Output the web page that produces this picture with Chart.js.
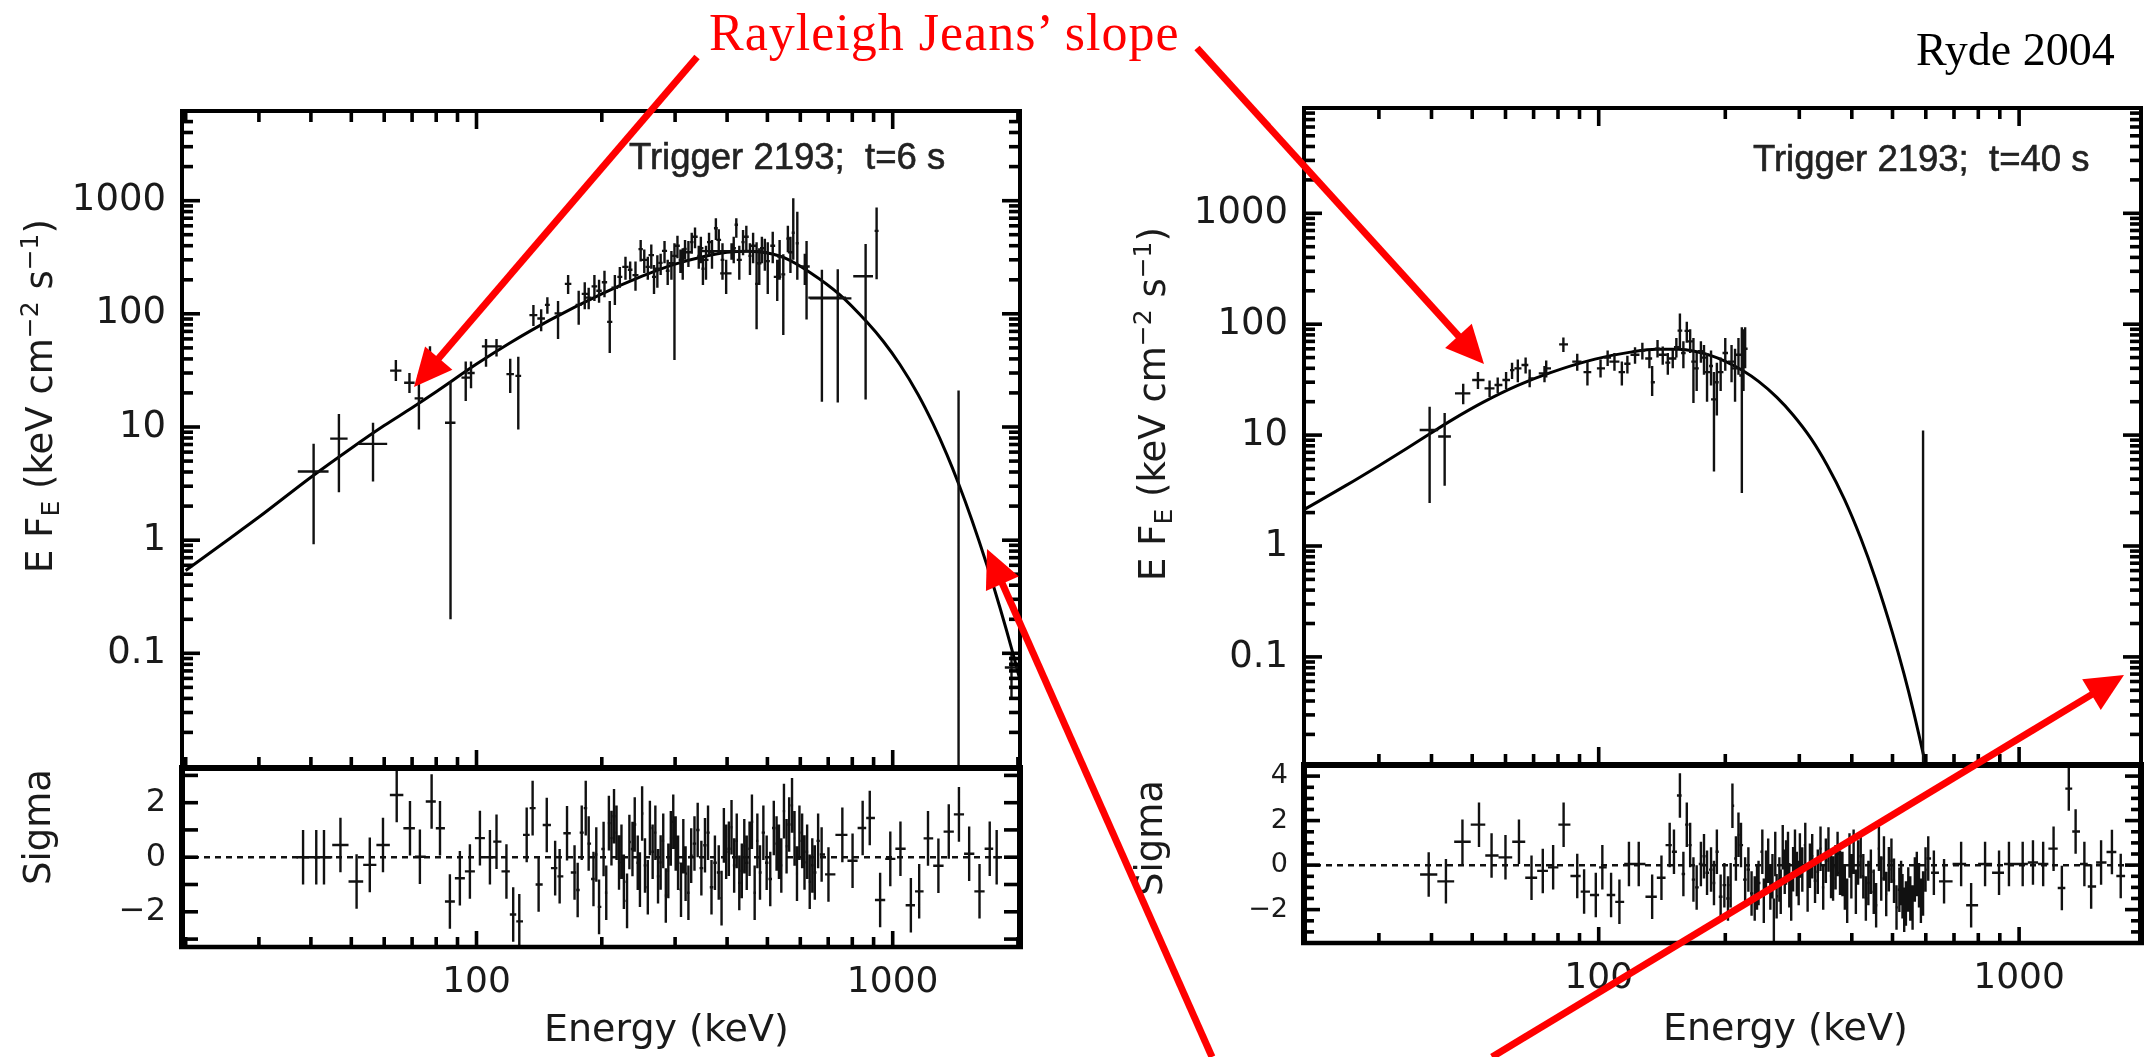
<!DOCTYPE html>
<html>
<head>
<meta charset="utf-8">
<title>Ryde 2004 - Trigger 2193</title>
<script src="https://cdn.jsdelivr.net/npm/chart.js@4.4.1/dist/chart.umd.min.js"></script>
<style>
  html, body { margin: 0; padding: 0; background: #fff; }
  body { position: relative; width: 2148px; height: 1057px; overflow: hidden; }
  canvas { position: absolute; }
  #overlay { position: absolute; left: 0; top: 0; pointer-events: none; }
  #overlay text { font-family: "DejaVu Sans", sans-serif; fill: #1a1a1a; }
  #overlay text.trig { font-family: "Liberation Sans", Arial, sans-serif; fill: #222; stroke: #222; stroke-width: 0.6; white-space: pre; }
</style>
</head>
<body>
<canvas id="leftMain" width="1030" height="768" style="left:0;top:0"></canvas>
<canvas id="leftRes" width="1030" height="317" style="left:0;top:740px"></canvas>
<canvas id="rightMain" width="1026" height="765" style="left:1122px;top:0"></canvas>
<canvas id="rightRes" width="1026" height="320" style="left:1122px;top:737px"></canvas>

<svg id="overlay" width="2148" height="1057" xmlns="http://www.w3.org/2000/svg">
  <g id="ticks" stroke="#000" stroke-width="3.6" fill="none"></g>
  <text x="709" y="50" style="font-family:'Liberation Serif',serif;fill:#f00" font-size="52" letter-spacing="1">Rayleigh Jeans’ slope</text>
  <text x="1916" y="65" style="font-family:'Liberation Serif',serif;fill:#000" font-size="46">Ryde 2004</text>

  <text class="trig" x="629" y="169" font-size="36.5">Trigger 2193;  t=6 s</text>
  <text class="trig" x="1753" y="171" font-size="36.5">Trigger 2193;  t=40 s</text>

  <text transform="translate(52,396) rotate(-90)" text-anchor="middle" font-size="37">E F<tspan font-size="25" dy="7">E</tspan><tspan dy="-7"> (keV cm</tspan><tspan font-size="25" dy="-14">−2</tspan><tspan dy="14"> s</tspan><tspan font-size="25" dy="-14">−1</tspan><tspan dy="14">)</tspan></text>
  <text transform="translate(1165,404) rotate(-90)" text-anchor="middle" font-size="37">E F<tspan font-size="25" dy="7">E</tspan><tspan dy="-7"> (keV cm</tspan><tspan font-size="25" dy="-14">−2</tspan><tspan dy="14"> s</tspan><tspan font-size="25" dy="-14">−1</tspan><tspan dy="14">)</tspan></text>

  <text transform="translate(50,827) rotate(-90)" text-anchor="middle" font-size="37">Sigma</text>
  <text transform="translate(1162,838) rotate(-90)" text-anchor="middle" font-size="37">Sigma</text>

  <text x="544" y="1041" font-size="38">Energy (keV)</text>
  <text x="1663" y="1040" font-size="38">Energy (keV)</text>
</svg>

<script>
// ---- axis ranges ----
const leftXRange = [19.6, 2023];
const rightXRange = [19.9, 1950];
const leftYRange = [0.0097, 6200];
const rightYRange = [0.0106, 8900];
const leftResRange = [-3.29, 3.27];
const rightResRange = [-3.5, 4.5];

// ---- tick labels / tick marks ----
const xLabels = [100, 1000];
const xMinorTicks = [20, 30, 40, 50, 60, 70, 80, 90, 200, 300, 400, 500, 600, 700, 800, 900, 2000];
const fluxLabels = [0.1, 1, 10, 100, 1000];
const fluxDecades = [0.01, 0.1, 1, 10, 100, 1000];
const leftSigmaLabels = [-2, 0, 2];
const rightSigmaLabels = [-2, 0, 2, 4];

// ---- left panel: t = 6 s ----
const leftModelE = [20, 25, 30, 40, 50, 60, 70, 80, 100, 120, 150, 200, 250, 300, 350, 400, 450, 500, 550, 633, 747, 866, 950, 1041, 1150, 1250, 1350, 1438, 1550, 1683, 1811, 1946, 2030];
const leftModelF = [0.54, 0.98, 1.6, 3.6, 6.5, 10.3, 14.8, 20.5, 36, 55, 88, 150, 215, 275, 320, 350, 358, 345, 312, 232, 147, 85, 57, 35.7, 19.5, 10.7, 5.7, 3.2, 1.51, 0.61, 0.253, 0.0995, 0.055];

// spectral points: energy bin and flux with its error range
const leftE = [40.6, 46.7, 56.4, 64, 69, 72.7, 77.3, 86.6, 94.2, 97, 105.4, 111.7, 120.5, 126, 137, 143, 148, 157, 166, 176, 186, 197, 209, 221, 234, 248, 258, 267, 277, 288, 299, 309, 317, 329, 342, 350, 362, 376, 398, 410, 421, 437, 454, 471, 485, 501, 528, 546, 560, 577, 590, 615, 621, 676, 738, 861, 915, 1440, 1930,
  182, 192, 203, 215, 228, 241, 253, 263, 272, 283, 294, 304, 313, 323, 335, 346, 356, 368, 382, 390, 415, 428, 445, 462, 478, 493, 515, 535, 568];
const leftELo = [37.2, 44.5, 52, 62, 67, 71, 75.5, 84, 92, 95, 103, 108, 118, 124, 134, 140, 146, 154, 163, 173, 183, 194, 206, 218, 231, 245, 255, 264, 274, 285, 296, 306, 314, 326, 339, 347, 358, 372, 385, 344, 417, 433, 450, 467, 480, 495, 518, 540, 555, 572, 585, 600, 616, 627, 632, 804, 905, 1440, 1860,
  179, 189, 200, 211, 224, 237, 249, 259, 268, 279, 290, 300, 309, 318, 330, 341, 351, 363, 377, 386, 410, 422, 439, 456, 472, 487, 508, 528, 560];
const leftEHi = [44.1, 49, 61, 66, 71, 74.5, 79, 89, 96.5, 99, 108, 115, 123, 128, 140, 146, 150, 160, 169, 179, 189, 200, 212, 224, 237, 251, 261, 270, 280, 291, 302, 312, 320, 332, 345, 353, 366, 380, 410, 489, 425, 441, 458, 475, 490, 507, 540, 552, 565, 582, 595, 632, 626, 773, 796, 897, 925, 1440, 2000,
  185, 195, 206, 219, 232, 245, 257, 267, 276, 287, 298, 308, 317, 328, 340, 351, 361, 373, 387, 394, 420, 434, 451, 468, 484, 499, 522, 542, 576];
const leftF = [4.05, 7.9, 7.1, 31.5, 24.6, 17.9, 39, 10.9, 27.3, 30, 51.6, 51.6, 29.3, 28.3, 97.5, 91, 120, 101, 184, 120, 139, 160, 85, 212, 245, 373, 260, 212, 282, 240, 325, 300, 374, 430, 325, 250, 430, 570, 228, 358, 612, 430, 325, 184, 380, 292, 212, 223, 462, 520, 420, 262, 255, 139, 137, 215, 541, 0.3, 0.075,
  150, 175, 190, 170, 260, 220, 300, 330, 250, 360, 280, 400, 290, 350, 480, 380, 300, 350, 450, 300, 380, 300, 480, 400, 280, 350, 400, 320, 350];
const leftFLo = [0.92, 2.65, 3.3, 25.5, 20, 9.5, 27, 0.2, 17, 22, 34, 42, 20, 9.5, 78, 70, 100, 60, 150, 80, 110, 125, 45, 170, 200, 290, 200, 150, 220, 180, 39, 230, 300, 340, 250, 180, 330, 450, 150, 300, 470, 330, 220, 73, 280, 150, 130, 65, 350, 300, 200, 180, 89, 16.7, 16.5, 17.5, 202, 0.001, 0.04,
  110, 130, 140, 120, 200, 160, 230, 250, 170, 280, 200, 310, 200, 260, 380, 280, 200, 250, 340, 200, 280, 200, 360, 280, 180, 240, 280, 200, 230];
const leftFHi = [7.1, 13, 10.9, 39, 30, 29, 51.6, 25.5, 38, 38, 60, 60, 40, 41.8, 120, 110, 140, 130, 220, 160, 170, 200, 130, 260, 290, 450, 320, 270, 340, 300, 420, 370, 450, 520, 400, 320, 520, 700, 300, 420, 700, 550, 420, 430, 480, 430, 300, 337, 600, 1050, 800, 340, 440, 245, 248, 414, 871, 21, 0.1,
  190, 220, 240, 220, 320, 290, 370, 410, 330, 440, 360, 490, 380, 440, 580, 480, 400, 450, 560, 420, 480, 400, 600, 520, 380, 460, 530, 450, 480];

// residuals in sigma (error bars are +-1 sigma)
const leftResE = [38.3, 41.2, 43, 47.1, 51.5, 55.4, 59.6, 64.3, 69.2, 73.1,
  78, 81.7, 86.3, 91.2, 96.4, 101.9, 107.7, 111.7, 118, 122.5,
  126.7, 132, 136.4, 141, 147.5, 154.5, 158.4, 165, 172, 179,
  186, 191, 197, 202, 208, 214, 220, 226, 233, 240,
  247, 254, 261, 269, 277, 285, 293, 301, 310, 318,
  328, 340, 354, 367, 382, 393, 404, 416, 428, 440,
  453, 466, 480, 498, 518, 533, 548, 564, 581, 597,
  614, 632, 650, 675, 701, 757, 801, 847, 881, 933,
  987, 1044, 1106, 1158, 1216, 1288, 1364, 1443, 1527, 1617,
  1711, 1778,
  175, 183, 194, 205, 211, 217, 223, 230, 237, 244,
  250, 258, 265, 273, 281, 289, 297, 305, 314, 323,
  334, 347, 360, 374, 388, 398, 410, 422, 434, 446,
  459, 473, 489, 508, 526, 540, 556, 573, 589, 606,
  623, 641, 662];
const leftResSigma = [0, 0, 0, 0.45, -0.89, -0.28, 0.45, 2.28, 1.06, 0.02,
  2.04, 1.06, -1.62, -0.77, -0.52, 0.7, 0, 0.57, -0.52, -2.1,
  -2.35, 0.82, 1.8, -1.0, 1.18, -0.4, -0.7, 0.88, -0.56, 0.9,
  0.5, -0.8, -1.82, 0.3, 1.25, 1.5, -0.19, -0.9, 0.56, 1.2,
  -0.82, -0.3, 1.07, 0.9, -0.19, -1.4, 0.69, 0.5, -1.19, -0.6,
  0.06, 1.0, 0.44, -1.1, -0.56, 0.8, 0.31, -0.3, -0.94, 0.4,
  0.31, -1.3, -0.56, -0.2, 1.07, 0.2, 1.69, 1.2, 0.69, 0.9,
  -0.19, -0.9, -0.56, 0.1, -0.63, 0.82, -0.13, 1.07, 1.44, -1.57,
  -0.06, 0.31, -1.76, -1.25, 0.69, -0.31, 0.94, 1.57, 0.13, -1.25,
  0.31, 0,
  -1.2, 1.8, 0.1, -1.3, 0.7, 0.9, 0.2, -1.6, 0.3, -0.2,
  1.6, -1.1, 0.2, -0.7, 0.6, -0.5, 1.3, -0.2, 0.4, -1.3,
  0.5, -0.4, 0.9, -0.2, -1.5, 0.2, 1.1, 0.6, -0.5, -0.2,
  1.3, 0.6, 0.9, -0.8, 0.5, -0.3, 0.4, 1.9, -0.6, 0.6,
  0.2, -0.3, 0.6];

// ---- right panel: t = 40 s ----
const rightModelE = [20, 25, 30, 35, 40, 45, 53, 64, 76.5, 98, 120, 137, 155, 170, 185, 199, 220, 240, 265, 290, 320, 350, 384, 420, 455, 500, 532, 560, 600, 615];
const rightModelF = [2.15, 3.5, 5.3, 7.6, 10.5, 13.85, 19.7, 27.9, 36.4, 48.4, 56.3, 59.4, 59.4, 56.7, 52.1, 46.7, 38.2, 30.5, 22, 15.2, 9.3, 5.3, 2.65, 1.18, 0.51, 0.164, 0.071, 0.033, 0.0105, 0.0068];

const rightE = [39.6, 43, 47.6, 51.6, 55, 57.5, 60.2, 62.2, 64.2, 67, 68.5, 74.3, 75, 82.4, 88.9, 94, 101, 109, 113.5, 122, 132, 134, 142, 150, 156, 162, 168, 175, 181, 188, 195, 207, 215, 219, 223, 591,
  105, 117, 127, 138, 146, 153, 159, 165, 171, 178, 185, 191, 200, 211, 221];
const rightELo = [37.5, 41.5, 45.5, 50, 53.5, 56.5, 59, 61.5, 63, 65.5, 68, 72, 74, 80.5, 86.5, 92, 99, 106, 111.5, 119, 129, 133, 139, 146, 154, 160, 166, 172, 178, 185, 192, 203, 211, 216, 220, 591,
  103, 115, 125, 136, 144, 151, 157, 163, 169, 176, 183, 189, 197, 208, 218];
const rightEHi = [41.5, 44.5, 49.5, 53.5, 56.5, 59, 61.5, 63, 65.5, 68, 70, 76, 77, 84.5, 91, 96, 103.5, 112, 115.5, 125, 134, 136, 145, 153, 158, 164, 170, 178, 184, 191, 198, 211, 219, 222, 226, 591,
  107, 119, 129, 140, 148, 155, 161, 167, 173, 180, 187, 193, 203, 214, 224];
const rightF = [11.1, 9.7, 23.8, 31.4, 26.4, 28.3, 31.4, 38.5, 40, 42.9, 32.5, 36, 40, 65.8, 46, 37, 40, 46, 37, 53, 49, 30, 53, 49, 87.5, 87, 46, 57, 37, 21, 37, 46, 53, 34.5, 60, 0.02,
  50, 44, 58, 60, 45, 62, 55, 70, 40, 50, 42, 30, 55, 40, 45];
const rightFLo = [2.44, 3.5, 19, 26, 22, 24, 26, 32, 30, 36, 27, 30, 33, 56, 38, 28, 33, 38, 28, 44, 40, 22.5, 43, 40, 60, 68, 19.5, 45, 20, 4.7, 25, 30, 35, 3.0, 40, 0.001,
  42, 36, 48, 50, 35, 50, 40, 55, 25, 35, 28, 15, 38, 20, 25];
const rightFHi = [18, 15.8, 29, 37, 31, 33, 37, 45, 48, 50, 39, 42, 47, 76, 54, 46, 48, 55, 46, 62, 58, 42, 63, 59, 125, 105, 75, 70, 55, 37, 50, 65, 75, 94, 94, 11,
  58, 52, 68, 72, 55, 75, 70, 90, 55, 65, 58, 45, 75, 60, 90];

const rightResE = [39.4, 43.3, 47.4, 51.9, 55.6, 60, 64.6, 69.2, 73.6, 77.9,
  82.5, 88.9, 92.3, 98.4, 102, 107, 112, 118, 124.5, 134,
  141, 147.5, 156, 162, 168, 175, 181, 188, 195, 199,
  203, 208, 212, 215, 223, 227, 231, 235, 240, 245,
  250, 256, 261, 265, 269, 274, 279, 284, 290, 296,
  301, 310, 318, 327, 337, 347, 357, 366, 375, 385,
  395, 404, 414, 426, 438, 451, 464, 477, 490, 504,
  519, 528, 538, 551, 565, 578, 591, 608, 627, 663,
  728, 769, 830, 896, 946, 1020, 1079, 1141, 1208, 1264,
  1313, 1363, 1430, 1484, 1567, 1663, 1745,
  151, 159, 165, 171, 178, 185, 191, 206, 218, 238,
  247, 253, 259, 263, 271, 277, 282, 287, 293, 299,
  305, 314, 322, 332, 342, 352, 361, 370, 380, 390,
  399, 409, 420, 432, 444, 457, 470, 483, 497, 511,
  524, 533, 545, 558, 571, 584, 599];
const rightResSigma = [-0.42, -0.73, 1.05, 1.82, 0.43, 0.35, 1.05, -0.57, -0.26, -0.1,
  1.82, -0.49, -1.19, -1.34, -0.1, -1.34, -1.65, 0.05, 0.05, -1.42,
  -0.57, 0.9, 3.13, 1.82, -0.65, 0.05, -0.34, -0.8, -1.42, -0.9,
  -1.5, 2.67, 0.3, 1.36, -0.65, -0.2, -1.27, -1.5, -0.8, 0.6,
  -0.34, -1.0, -2.5, -1.4, -0.65, 0.8, 0.12, -0.9, -0.19, -0.4,
  0.43, 0.9, -0.03, -0.7, 0.74, 0.2, -0.49, -0.1, -0.34, -1.0,
  0.43, 0.6, 0.12, -0.5, -0.8, -1.2, 0.74, 0.3, -0.19, -0.7,
  -1.11, -1.4, -1.73, -1.5, -0.65, -0.9, -1.27, 0.3, -0.34, -0.73,
  0.05, -1.8, 0.05, -0.34, 0.05, 0.05, 0.12, 0.05, 0.74, -1.03,
  3.44, 1.51, 0.05, -0.96, 0.12, 0.59, -0.49,
  0.6, -0.4, 0.9, -1.0, 0.4, -0.2, 0.6, -0.9, 0.9, -1.0,
  -1.6, 0.2, -0.5, 0.5, -1.2, -0.3, 0.5, -1.5, 0.6, -0.8,
  -0.2, -1.1, 0.4, -0.3, -1.0, 0.7, -0.6, 0.5, -0.4, -1.6,
  -0.5, -1.2, 0.4, -1.5, -0.3, -1.8, -0.6, -1.3, 0.2, -1.9,
  -0.8, -2.0, -1.1, -1.9, -0.4, -1.6, -0.2];

// annotation arrows: start x, start y, tip x, tip y
const arrows = [[697, 57, 414, 387], [1197, 48, 1484, 364], [1212, 1057, 987, 549], [1492, 1057, 2124, 675]];

const INK = '#111';
const FONT = 'DejaVu Sans';
const NS = 'http://www.w3.org/2000/svg';

const toLine = (E, F) => E.map((e, i) => ({ x: e, y: F[i] }));

const toPoints = (E, ELo, EHi, F, FLo, FHi) =>
    E.map((e, i) => ({ x: e, y: F[i], xMin: ELo[i], xMax: EHi[i], yMin: FLo[i], yMax: FHi[i] }));

// residual bins are contiguous, so the horizontal bar runs half way to the neighbours
const toResiduals = (E, S) => {
    const pts = E.map((e, i) => ({ e: e, s: S[i] })).sort((a, b) => a.e - b.e);
    const n = pts.length;
    return pts.map((p, i) => {
        const e = p.e;
        const lo = i > 0 ? Math.sqrt(pts[i - 1].e * e) : e * Math.sqrt(e / pts[1].e);
        const hi = i < n - 1 ? Math.sqrt(e * pts[i + 1].e) : e * Math.sqrt(e / pts[n - 2].e);
        return { x: e, y: p.s, xMin: lo, xMax: hi, yMin: p.s - 1, yMax: p.s + 1 };
    });
};

const fluxMinor = fluxDecades.flatMap(d => [2, 3, 4, 5, 6, 7, 8, 9].map(m => d * m));

const errorBarPlugin = {
    id: 'errorBars',
    afterDatasetsDraw(chart) {
        const { ctx, chartArea: a } = chart;
        const xs = chart.scales.x, ys = chart.scales.y;
        ctx.save();
        ctx.beginPath();
        ctx.rect(a.left, a.top, a.right - a.left, a.bottom - a.top);
        ctx.clip();
        ctx.strokeStyle = INK;
        ctx.lineWidth = 2.4;
        chart.data.datasets.forEach(ds => {
            if (!ds.errorBars) return;
            ctx.beginPath();
            ds.data.forEach(p => {
                const px = xs.getPixelForValue(p.x), py = ys.getPixelForValue(p.y);
                if (p.xMax > p.xMin) {
                    ctx.moveTo(xs.getPixelForValue(p.xMin), py);
                    ctx.lineTo(xs.getPixelForValue(p.xMax), py);
                }
                ctx.moveTo(px, ys.getPixelForValue(p.yMin));
                ctx.lineTo(px, ys.getPixelForValue(p.yMax));
            });
            ctx.stroke();
        });
        ctx.restore();
    }
};

// box with inward tick marks (IDL style); tick positions come from the chart scales
function drawFrame(chart, canvasId, t) {
    const g = document.getElementById('ticks');
    const cv = document.getElementById(canvasId);
    const ox = cv.offsetLeft, oy = cv.offsetTop;
    const a = chart.chartArea;
    const xs = chart.scales.x, ys = chart.scales.y;
    const L = a.left, R = a.right, T = a.top, B = a.bottom;
    const add = (x1, y1, x2, y2, w) => {
        const l = document.createElementNS(NS, 'line');
        l.setAttribute('x1', (x1 + ox).toFixed(1)); l.setAttribute('y1', (y1 + oy).toFixed(1));
        l.setAttribute('x2', (x2 + ox).toFixed(1)); l.setAttribute('y2', (y2 + oy).toFixed(1));
        if (w) l.setAttribute('stroke-width', w);
        g.appendChild(l);
    };
    for (const v of xLabels.concat(xMinorTicks)) {
        const len = xLabels.includes(v) ? t.xMajorLen : t.xMinorLen;
        const px = Number(xs.getPixelForValue(v));
        if (px <= L + 2 || px >= R - 2) continue;
        if (t.xTop) add(px, T, px, T + len);
        if (t.xBottom) add(px, B, px, B - len);
    }
    for (const v of t.yMajor.concat(t.yMinor)) {
        const len = t.yMajor.includes(v) ? t.yMajorLen : t.yMinorLen;
        const py = Number(ys.getPixelForValue(v));
        if (py <= T + 2 || py >= B - 2) continue;
        add(L, py, L + len, py);
        add(R, py, R - len, py);
    }
    const fw = t.frameWidth, sw = t.sideWidth || fw;
    add(L - sw / 2, T, R + sw / 2, T, sw);
    add(L - sw / 2, B, R + sw / 2, B, fw);
    add(L, T, L, B, sw);
    add(R, T, R, B, sw);
}

function yAxis(range, type, labels, size) {
    return {
        type: type,
        min: range[0],
        max: range[1],
        grid: { display: false, drawTicks: false },
        border: { display: false },
        afterBuildTicks: s => { s.ticks = labels.map(v => ({ value: v })); },
        afterFit: s => { s.width = 182; s.paddingTop = 0; s.paddingBottom = 0; },
        ticks: {
            font: { family: FONT, size: size },
            color: '#1a1a1a',
            padding: 16,
            autoSkip: false,
            callback: v => String(v).replace('-', '\u2212')
        }
    };
}

function makeMain(id, cfg) {
    const chart = new Chart(document.getElementById(id), {
        type: 'scatter',
        data: {
            datasets: [
                { data: cfg.model, showLine: true, borderColor: '#000', borderWidth: 3, pointRadius: 0, cubicInterpolationMode: 'monotone' },
                { data: cfg.points, errorBars: true, pointRadius: 0 }
            ]
        },
        options: {
            responsive: false, animation: false, devicePixelRatio: 1, events: [],
            layout: { autoPadding: false, padding: { top: cfg.top, right: cfg.right, left: 0, bottom: 0 } },
            plugins: { legend: { display: false }, tooltip: { enabled: false } },
            scales: {
                x: { type: 'logarithmic', min: cfg.xRange[0], max: cfg.xRange[1], display: false },
                y: yAxis(cfg.yRange, 'logarithmic', fluxLabels, 37)
            }
        },
        plugins: [errorBarPlugin]
    });
    drawFrame(chart, id, {
        xTop: true, xBottom: true, xMajorLen: 18, xMinorLen: 11,
        yMajor: fluxDecades, yMinor: fluxMinor, yMajorLen: 18, yMinorLen: 11,
        frameWidth: 4
    });
    return chart;
}

function makeResidual(id, cfg) {
    const chart = new Chart(document.getElementById(id), {
        type: 'scatter',
        data: {
            datasets: [
                { data: [{ x: cfg.xRange[0], y: 0 }, { x: cfg.xRange[1], y: 0 }], showLine: true, borderColor: INK, borderWidth: 2.5, borderDash: [6, 5], pointRadius: 0 },
                { data: cfg.points, errorBars: true, pointRadius: 0 }
            ]
        },
        options: {
            responsive: false, animation: false, devicePixelRatio: 1, events: [],
            layout: { autoPadding: false, padding: { top: 28, right: cfg.right, left: 0, bottom: 0 } },
            plugins: { legend: { display: false }, tooltip: { enabled: false } },
            scales: {
                x: {
                    type: 'logarithmic', min: cfg.xRange[0], max: cfg.xRange[1],
                    grid: { display: false, drawTicks: false },
                    border: { display: false },
                    afterBuildTicks: s => { s.ticks = xLabels.map(v => ({ value: v })); },
                    afterFit: s => { s.height = cfg.xHeight; s.paddingLeft = 0; s.paddingRight = 0; },
                    ticks: { font: { family: FONT, size: 36 }, color: '#1a1a1a', padding: 14, autoSkip: false, maxRotation: 0, callback: v => String(v) }
                },
                y: yAxis(cfg.yRange, 'linear', cfg.labels, cfg.labelSize)
            }
        },
        plugins: [errorBarPlugin]
    });
    drawFrame(chart, id, {
        xTop: false, xBottom: true, xMajorLen: 16, xMinorLen: 10,
        yMajor: cfg.yMajor, yMinor: cfg.yMinor, yMajorLen: 16, yMinorLen: cfg.yMinorLen,
        frameWidth: 4.5, sideWidth: 6
    });
    return chart;
}

makeMain('leftMain', {
    top: 111, right: 10, xRange: leftXRange, yRange: leftYRange,
    model: toLine(leftModelE, leftModelF),
    points: toPoints(leftE, leftELo, leftEHi, leftF, leftFLo, leftFHi)
});
makeResidual('leftRes', {
    right: 10, xHeight: 110, xRange: leftXRange, yRange: leftResRange,
    labels: leftSigmaLabels, labelSize: 32,
    yMajor: [-2, 0, 2], yMinor: [-3, -1, 1, 3], yMinorLen: 16,
    points: toResiduals(leftResE, leftResSigma)
});
makeMain('rightMain', {
    top: 108, right: 7, xRange: rightXRange, yRange: rightYRange,
    model: toLine(rightModelE, rightModelF),
    points: toPoints(rightE, rightELo, rightEHi, rightF, rightFLo, rightFHi)
});
makeResidual('rightRes', {
    right: 7, xHeight: 114, xRange: rightXRange, yRange: rightResRange,
    labels: rightSigmaLabels, labelSize: 27,
    yMajor: [-2, 0, 2, 4], yMinor: [-3, -1, 1, 3, -3.5, -2.5, -1.5, -0.5, 0.5, 1.5, 2.5, 3.5], yMinorLen: 10,
    points: toResiduals(rightResE, rightResSigma)
});

// red annotation arrows
const svg = document.getElementById('overlay');
const HEAD_LEN = 38, HEAD_HALF = 18;
arrows.forEach(([x1, y1, x2, y2]) => {
    const len = Math.hypot(x2 - x1, y2 - y1);
    const ux = (x2 - x1) / len, uy = (y2 - y1) / len;
    const bx = x2 - ux * HEAD_LEN, by = y2 - uy * HEAD_LEN;
    const line = document.createElementNS(NS, 'line');
    line.setAttribute('x1', x1); line.setAttribute('y1', y1);
    line.setAttribute('x2', bx + ux * 2); line.setAttribute('y2', by + uy * 2);
    line.setAttribute('stroke', '#f00'); line.setAttribute('stroke-width', 7);
    svg.appendChild(line);
    const head = document.createElementNS(NS, 'polygon');
    head.setAttribute('points', [
        [x2, y2],
        [bx - uy * HEAD_HALF, by + ux * HEAD_HALF],
        [bx + uy * HEAD_HALF, by - ux * HEAD_HALF]
    ].map(p => p.join(',')).join(' '));
    head.setAttribute('fill', '#f00');
    svg.appendChild(head);
});
</script>
</body>
</html>
